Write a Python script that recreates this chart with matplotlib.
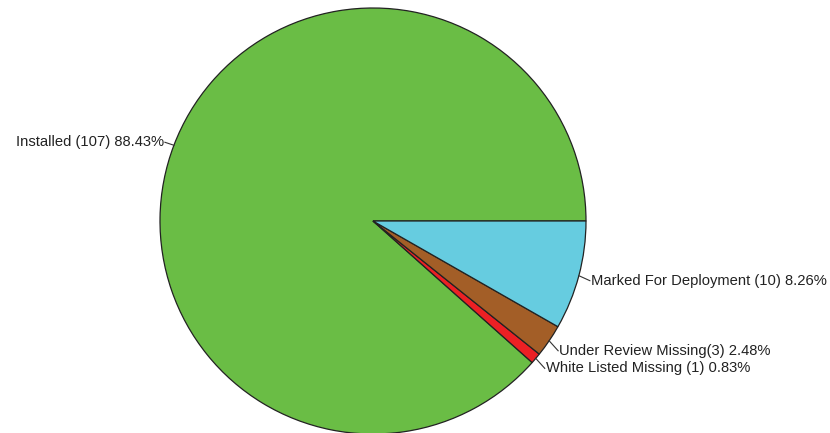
import matplotlib
matplotlib.use("Agg")
import matplotlib.pyplot as plt
import numpy as np

categories = ["Installed", "White Listed Missing", "Under Review Missing", "Marked For Deployment"]
counts = [107, 1, 3, 10]
label_texts = ["Installed (107) 88.43%", "White Listed Missing (1) 0.83%",
               "Under Review Missing(3) 2.48%", "Marked For Deployment (10) 8.26%"]
colors = ["#6abd45", "#ec2024", "#a35e27", "#66cce0"]

plt.rcParams['font.family'] = ['Liberation Sans', 'DejaVu Sans']

fig = plt.figure(figsize=(8.30, 4.33), dpi=100)
ax = fig.add_axes([0, 0, 1, 1])

cx, cy, r = 373, 433 - 221, 213
wedges, _ = ax.pie(counts, colors=colors, startangle=0, counterclock=True,
                   center=(cx, cy), radius=r, frame=True,
                   wedgeprops=dict(edgecolor='#222222', linewidth=0.9))
ax.set_xlim(0, 830)
ax.set_ylim(0, 433)
ax.set_aspect('equal')
ax.axis('off')

offsets = [(-9, 3), (9, -10), (9, -10), (11, -5)]
for w, txt, off in zip(wedges, label_texts, offsets):
    ang = np.deg2rad((w.theta1 + w.theta2) / 2)
    px, py = cx + r * np.cos(ang), cy + r * np.sin(ang)
    ha = 'left' if np.cos(ang) > 0 else 'right'
    tx, ty = px + off[0], py + off[1]
    ax.plot([px, tx], [py, ty], color='#333333', lw=0.8)
    ax.text(tx + (1 if ha == 'left' else -1), ty, txt, ha=ha, va='center',
            fontsize=10.6, color='#222222')

fig.savefig("out.png", dpi=100)
